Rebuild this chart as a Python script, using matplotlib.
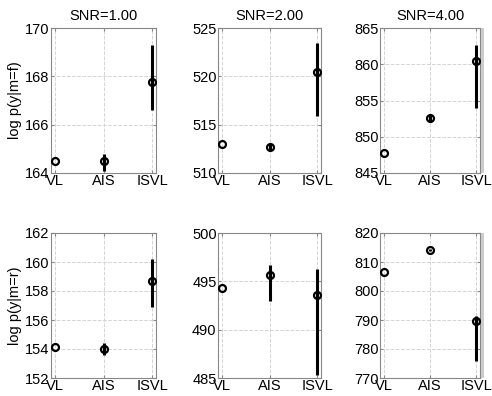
import matplotlib
matplotlib.use('Agg')
import matplotlib.pyplot as plt
from matplotlib.patches import Rectangle
import numpy as np

plt.rcParams['font.family'] = ['Liberation Sans', 'DejaVu Sans']

methods = ['VL', 'AIS', 'ISVL']
snr_titles = ['SNR=1.00', 'SNR=2.00', 'SNR=4.00']
row_labels = ['log p(y|m=f)', 'log p(y|m=r)']

# mean, lower end and upper end of each error bar
means = [
    [[164.5, 164.5, 167.75], [513.0, 512.7, 520.4], [847.7, 852.6, 860.4]],
    [[154.15, 154.0, 158.7], [494.3, 495.7, 493.6], [806.5, 814.2, 789.7]],
]
lows = [
    [[164.5, 164.1, 166.6], [513.0, 512.4, 515.9], [847.7, 852.0, 854.0]],
    [[154.15, 153.6, 156.9], [494.3, 493.0, 485.3], [806.5, 813.8, 776.0]],
]
highs = [
    [[164.5, 164.8, 169.3], [513.0, 513.0, 523.4], [847.7, 853.0, 862.7]],
    [[154.15, 154.4, 160.2], [494.3, 496.7, 496.3], [806.5, 814.6, 791.5]],
]
ylims = [
    [(164, 170), (510, 525), (845, 865)],
    [(152, 162), (485, 500), (770, 820)],
]
yticks = [
    [[164, 166, 168, 170], [510, 515, 520, 525], [845, 850, 855, 860, 865]],
    [[152, 154, 156, 158, 160, 162], [485, 490, 495, 500], [770, 780, 790, 800, 810, 820]],
]

fig = plt.figure(figsize=(4.92, 3.96), dpi=100)
W, H = 492.0, 396.0
lefts = [51, 218, 380]
widths = [105, 103, 100]
tops = [28, 233]
ah = 145

x = np.arange(1, 4)
for r in range(2):
    for c in range(3):
        ax = fig.add_axes([lefts[c] / W, 1 - (tops[r] + ah) / H, widths[c] / W, ah / H])
        m = np.array(means[r][c])
        err = [m - np.array(lows[r][c]), np.array(highs[r][c]) - m]
        ax.errorbar(x, m, yerr=err, fmt='o', mfc='none', mec='black', mew=1.6,
                    ms=5, ecolor='black', elinewidth=2.2, capsize=0, zorder=3)
        ax.set_xlim(0.92, 3.08)
        ax.set_ylim(*ylims[r][c])
        ax.set_yticks(yticks[r][c])
        ax.set_xticks(x)
        ax.set_xticklabels(methods)
        ax.grid(True, linestyle='--', color='#d4d4d4', linewidth=0.7)
        ax.tick_params(labelsize=10.5, length=2, color='#888888', pad=1,
                       direction='in', right=True, top=True)
        for s in ax.spines.values():
            s.set_color('#888888')
            s.set_linewidth(0.8)
        if r == 0:
            ax.set_title(snr_titles[c], fontsize=10.5, pad=6)
        if c == 0:
            ax.set_ylabel(row_labels[r], fontsize=10.5, labelpad=2)
        if c == 2:
            # light grey strip just right of the last column
            fig.patches.append(Rectangle(((lefts[c] + widths[c] + 1) / W, 1 - (tops[r] + ah) / H),
                                         3 / W, ah / H, transform=fig.transFigure,
                                         color='#cccccc', lw=0))

fig.savefig('out.png', dpi=100)
